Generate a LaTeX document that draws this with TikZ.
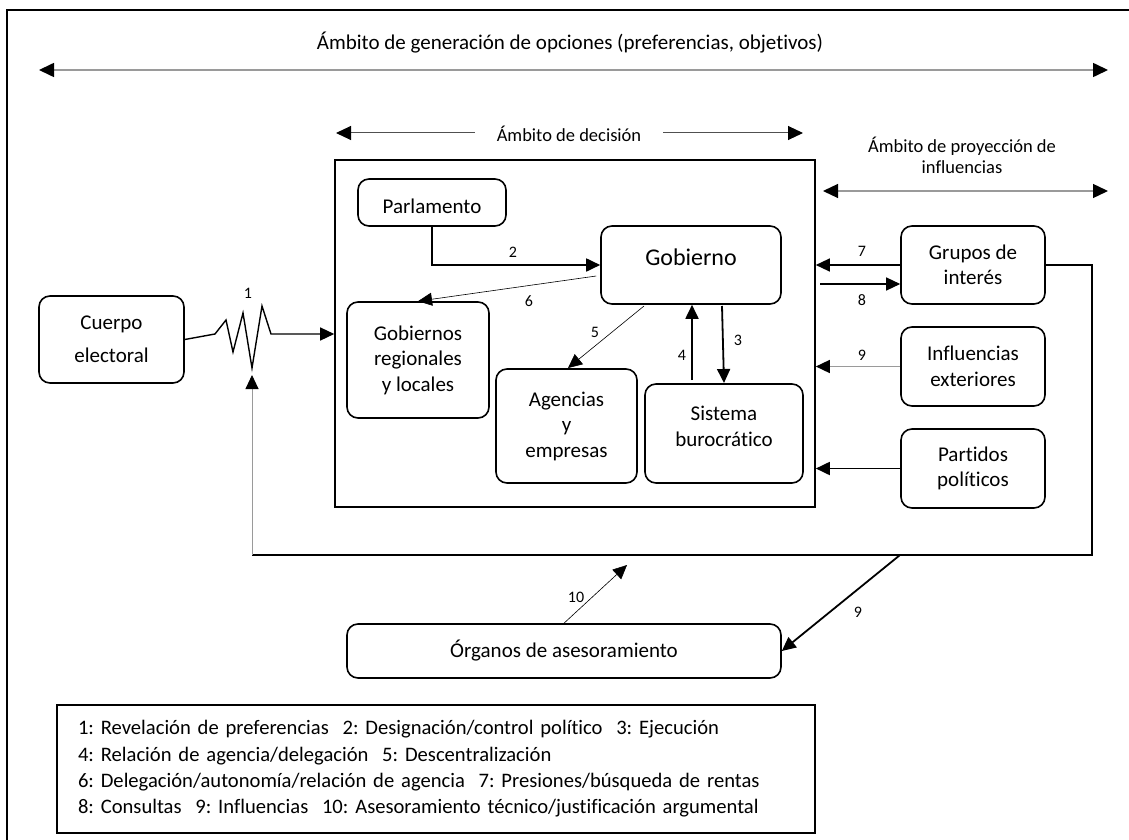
\documentclass[tikz,border=0pt]{standalone}
\usepackage{fontspec}
\setmainfont{Carlito}[Ligatures=NoCommon]
\usetikzlibrary{arrows.meta,calc}
\definecolor{lightline}{HTML}{9A9A9A}
\definecolor{darkline}{HTML}{505050}
\frenchspacing
\begin{document}
\begin{tikzpicture}[x=1pt,y=-1pt,
  box/.style={draw,line width=1.6pt,rounded corners=11pt,align=center,inner sep=0pt,
    font=\fontsize{21}{25.5}\selectfont},
  frame/.style={draw,line width=1.6pt,inner sep=0pt},
  lab/.style={font=\fontsize{16}{18}\selectfont,inner sep=0pt},
  note/.style={font=\fontsize{18.5}{21.5}\selectfont,inner sep=0pt,align=center},
  tip/.style={-{Triangle[length=14pt,width=13pt,color=black]}},
  tips/.style={{Triangle[length=15pt,width=14pt,color=black]}-{Triangle[length=15pt,width=14pt,color=black]}},
  heavy/.style={line width=1.8pt},
  medium/.style={line width=1.3pt},
  fine/.style={line width=0.6pt},
]
\useasboundingbox (0,0) rectangle (1129,840);
\clip (0,0) rectangle (1129,840);

% outer frame (runs past the right and bottom edges)
\draw[line width=1.8pt] (7,10) rectangle (1160,870);

% scope arrows
\coordinate (gL) at (39,70);
\coordinate (gR) at (1108,70);
\draw[tips,lightline,line width=1.6pt] (gL) -- (gR);
\node[font=\fontsize{21}{25}\selectfont,inner sep=0pt] (tgen) at (570,43)
  {Ámbito de generación de opciones (preferencias, objetivos)};

\coordinate (dL) at (336,133);
\coordinate (dR) at (803,133);
\draw[tips,darkline,line width=1pt] (dL) -- (dR);
\node[note,fill=white,inner xsep=22pt,inner ysep=3pt] (tdec) at (569,134) {Ámbito de decisión};

\coordinate (pL) at (823,191);
\coordinate (pR) at (1108,191);
\draw[tips,lightline,line width=1.3pt] (pL) -- (pR);
\node[note] (tpro) at (962,155.5) {Ámbito de proyección de\\influencias};

% decision area
\node[frame,minimum width=480pt,minimum height=347pt] (dec) at (575,333.5) {};

% boxes
\node[box,minimum width=145pt,minimum height=87pt] (cue) at (111.5,339.5) {Cuerpo\\[7pt]electoral};
\node[box,minimum width=148pt,minimum height=47pt,text height=22pt] (par) at (432,202.5) {Parlamento};
\node[box,minimum width=180pt,minimum height=78pt,font=\fontsize{24}{28}\selectfont,text depth=16pt] (gob) at (691,265) {Gobierno};
\node[box,minimum width=142pt,minimum height=116pt] (reg) at (418,360) {Gobiernos\\regionales\\y locales};
\node[box,minimum width=141pt,minimum height=114pt] (age) at (566.5,426) {Agencias\\y\\empresas};
\node[box,minimum width=158pt,minimum height=99pt,text depth=14pt] (sis) at (724,433.5) {Sistema\\burocrático};
\node[box,minimum width=144pt,minimum height=78pt] (gru) at (973,265) {Grupos de\\interés};
\node[box,minimum width=144pt,minimum height=79pt] (inf) at (973,366.5) {Influencias\\exteriores};
\node[box,minimum width=144pt,minimum height=79pt] (pp) at (973,468.5) {Partidos\\políticos};
\node[box,minimum width=434pt,minimum height=54pt] (org) at (564,651) {Órganos de asesoramiento};

% 1: electoral link with resistor
\coordinate (r0) at (215,334);
\coordinate (rIn) at (dec.west |- r0);
\draw[tip,line width=1.4pt] (cue.east) -- (r0) -- (226,320) -- (233,352) -- (243,313)
  -- (252,368) -- (262,306) -- (271,334) -- (rIn);
\node[lab] (l1) at (248,293) {1};

% feedback loop from interest groups
\coordinate (lpR) at (1092,555);
\coordinate (lpL) at (252,555);
\coordinate (rB) at (252,375);
\draw[line width=1.6pt] (gru.east) -| (lpR) -- (lpL);
\draw[tip,lightline,line width=0.9pt] (lpL) -- (rB);

% 2: Parlamento -> Gobierno
\draw[tip,heavy] (par.south) |- (gob.west);
\node[lab] (l2) at (513,252) {2};

% 6: Gobierno -> regional
\coordinate (g6) at ($(gob.west)+(-4,11)$);
\draw[tip,fine] (g6) -- (reg.north);
\node[lab] (l6) at (529,301) {6};

% 5: Gobierno -> agencias
\coordinate (g5) at (644,306);
\coordinate (a5) at (568,368);
\draw[tip,fine] (g5) -- (a5);
\node[lab] (l5) at (595,332) {5};

% 4 and 3: Gobierno <-> Sistema
\coordinate (x4) at (692,380);
\draw[tip,heavy] (x4) -- (x4 |- gob.south);
\node[lab] (l4) at (682,355) {4};
\coordinate (x3) at (722,306);
\coordinate (y3) at (724,383);
\draw[tip,heavy] (x3) -- (y3);
\node[lab] (l3) at (738,340) {3};

% 7 and 8: interest groups
\draw[tip,medium] (gru.west) -- (gru.west -| dec.east);
\node[lab] (l7) at (862,251) {7};
\coordinate (s8) at (820,284);
\draw[tip,medium] (s8) -- (s8 -| gru.west);
\node[lab] (l8) at (862,300) {8};

% 9: foreign influences
\draw[tip,lightline,line width=1.5pt] (inf.west) -- (inf.west -| dec.east);
\node[lab] (l9a) at (862,355) {9};

% parties
\draw[tip,heavy] (pp.west) -- (pp.west -| dec.east);

% 9 and 10: advisory bodies
\coordinate (c9) at (900,555);
\draw[tip,heavy] (c9) -- (org.east);
\node[lab] (l9b) at (858,612) {9};
\coordinate (c10) at (627,565);
\draw[tip,fine] (org.north) -- (c10);
\node[lab] (l10) at (576,597) {10};

% legend
\node[frame,minimum width=758pt,minimum height=128pt,text width=716pt,inner xsep=21pt,align=left,
  font=\fontsize{20.6}{26.3}\selectfont] (leg) at (436,769)
  {1: Revelación de preferencias\ \ 2: Designación/control político\ \ 3: Ejecución\\
   4: Relación de agencia/delegación\ \ 5: Descentralización\\
   6: Delegación/autonomía/relación de agencia\ \ 7: Presiones/búsqueda de rentas\\
   8: Consultas\ \ 9: Influencias\ \ 10: Asesoramiento técnico/justificación argumental};
\end{tikzpicture}
\end{document}
